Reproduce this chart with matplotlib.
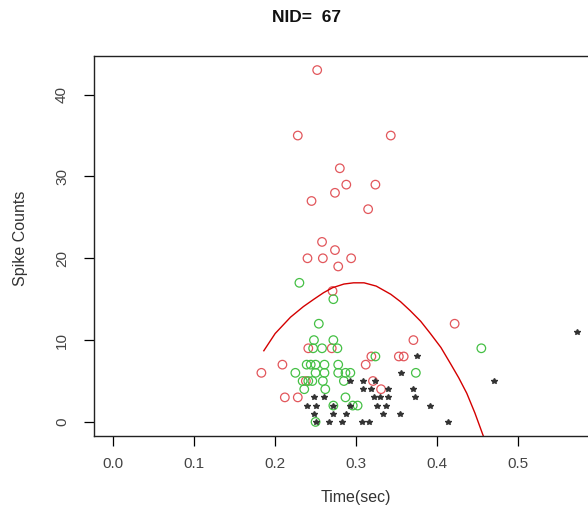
import matplotlib
matplotlib.use("Agg")
import matplotlib.pyplot as plt

plt.rcParams['font.family'] = ['Liberation Sans', 'DejaVu Sans']

# spike counts per trial, split by group
red_x = [0.252, 0.228, 0.343, 0.280, 0.288, 0.324, 0.274, 0.245, 0.315, 0.258,
         0.274, 0.240, 0.259, 0.294, 0.278, 0.271, 0.422, 0.371, 0.353, 0.359,
         0.312, 0.209, 0.183, 0.321, 0.331, 0.212, 0.228, 0.241, 0.270, 0.319,
         0.238]
red_y = [43, 35, 35, 31, 29, 29, 28, 27, 26, 22,
         21, 20, 20, 20, 19, 16, 12, 10, 8, 8,
         7, 7, 6, 5, 4, 3, 3, 9, 9, 8,
         5]

green_x = [0.230, 0.272, 0.254, 0.248, 0.272, 0.247, 0.258, 0.277, 0.324, 0.455,
           0.239, 0.244, 0.250, 0.261, 0.278, 0.225, 0.250, 0.261, 0.278, 0.287,
           0.293, 0.374, 0.234, 0.241, 0.246, 0.259, 0.285, 0.236, 0.262, 0.287,
           0.272, 0.296, 0.302, 0.250]
green_y = [17, 15, 12, 10, 10, 9, 9, 9, 8, 9,
           7, 7, 7, 7, 7, 6, 6, 6, 6, 6,
           6, 6, 5, 5, 5, 5, 5, 4, 4, 3,
           2, 2, 2, 0]

star_x = [0.251, 0.267, 0.283, 0.308, 0.316, 0.414,
          0.248, 0.272, 0.288, 0.334, 0.354,
          0.240, 0.251, 0.271, 0.293, 0.326, 0.337, 0.392,
          0.248, 0.260, 0.322, 0.330, 0.339, 0.373,
          0.309, 0.318, 0.339, 0.370,
          0.293, 0.309, 0.324, 0.471,
          0.356, 0.376, 0.573]
star_y = [0, 0, 0, 0, 0, 0,
          1, 1, 1, 1, 1,
          2, 2, 2, 2, 2, 2, 2,
          3, 3, 3, 3, 3, 3,
          4, 4, 4, 4,
          5, 5, 5, 5,
          6, 8, 11]

# fitted rate curve
fit_x = [0.186, 0.200, 0.219, 0.235, 0.248, 0.260, 0.271, 0.285, 0.297, 0.310,
         0.325, 0.343, 0.355, 0.367, 0.380, 0.392, 0.405, 0.417, 0.427, 0.437,
         0.447, 0.457, 0.465]
fit_y = [8.7, 10.8, 12.8, 14.1, 15.0, 15.8, 16.4, 16.85, 17.0, 17.0,
         16.6, 15.6, 14.7, 13.6, 12.3, 10.8, 9.1, 7.1, 5.4, 3.5,
         1.1, -1.6, -4.0]

fig = plt.figure(figsize=(5.88, 5.11), dpi=100)
ax = fig.add_axes([94/588, 75/511, 524/588, 380/511])

ax.scatter(red_x, red_y, s=38, facecolors='none', edgecolors='#e2575c', linewidths=0.9)
ax.scatter(green_x, green_y, s=38, facecolors='none', edgecolors='#45c045', linewidths=0.9)
ax.plot(star_x, star_y, '*', color='#333333', markersize=4, linestyle='none')
ax.plot(fit_x, fit_y, color='#d40000', linewidth=1.0)

ax.set_xlim(-0.024, 0.624)
ax.set_ylim(-1.72, 44.72)
ax.set_xticks([0.0, 0.1, 0.2, 0.3, 0.4, 0.5])
ax.set_xticklabels(['0.0', '0.1', '0.2', '0.3', '0.4', '0.5'])
ax.set_yticks([0, 10, 20, 30, 40])
for lbl in ax.get_yticklabels():
    lbl.set_rotation(90)
    lbl.set_va('center')

ax.tick_params(direction='out', length=7, width=0.9, labelsize=11,
               labelcolor='#444444', pad=8)
ax.tick_params(axis='y', pad=11)
for sp in ax.spines.values():
    sp.set_linewidth(1.0)
    sp.set_color('#222222')

ax.set_xlabel('Time(sec)', fontsize=11.5, color='#333333', labelpad=14)
fig.text(20/588, 1 - 238/511, 'Spike Counts', rotation=90, fontsize=11.5,
         color='#333333', ha='center', va='center')
fig.text(306/588, 1 - 17/511, 'NID=  67', fontsize=12.5, fontweight='bold',
         ha='center', va='center', color='#111111')

fig.savefig('out.png', dpi=100)
